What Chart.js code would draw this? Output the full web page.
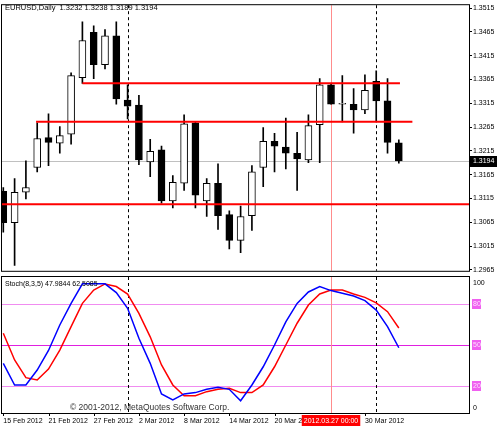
<!DOCTYPE html>
<html><head><meta charset="utf-8">
<script src="https://cdn.jsdelivr.net/npm/chart.js@4.4.1/dist/chart.umd.min.js"></script>
<style>body{margin:0;background:#fff;overflow:hidden}canvas{position:absolute;left:0}</style>
</head><body>
<canvas id="c1" width="497" height="276" style="top:0"></canvas>
<canvas id="c2" width="497" height="151" style="top:275px"></canvas>
<script>
const dates=["15 Feb","16 Feb","17 Feb","20 Feb","21 Feb","22 Feb","23 Feb","24 Feb","27 Feb","28 Feb","29 Feb","1 Mar","2 Mar","5 Mar","6 Mar","7 Mar","8 Mar","9 Mar","12 Mar","13 Mar","14 Mar","15 Mar","16 Mar","19 Mar","20 Mar","21 Mar","22 Mar","23 Mar","26 Mar","27 Mar","28 Mar","29 Mar","30 Mar","2 Apr","3 Apr","4 Apr"];
const openP =[1.3130,1.3064,1.3128,1.3180,1.3243,1.3231,1.3250,1.3369,1.3464,1.3396,1.3457,1.3322,1.3311,1.3192,1.3217,1.3110,1.3147,1.3274,1.3110,1.3147,1.3081,1.3027,1.3079,1.3180,1.3235,1.3223,1.3210,1.3196,1.3270,1.3354,1.3313,1.3313,1.3301,1.3361,1.3320,1.3232];
const highP =[1.3138,1.3157,1.3194,1.3274,1.3293,1.3266,1.3379,1.3486,1.3478,1.3470,1.3486,1.3354,1.3332,1.3239,1.3225,1.3163,1.3291,1.3276,1.3157,1.3188,1.3089,1.3099,1.3184,1.3264,1.3252,1.3284,1.3254,1.3291,1.3367,1.3356,1.3373,1.3346,1.3375,1.3383,1.3367,1.3238];
const lowP  =[1.3044,1.2974,1.3114,1.3171,1.3184,1.3210,1.3229,1.3357,1.3367,1.3387,1.3313,1.3282,1.3186,1.3161,1.3105,1.3095,1.3132,1.3095,1.3077,1.3050,1.3009,1.3001,1.3048,1.3140,1.3171,1.3177,1.3132,1.3190,1.3190,1.3313,1.3276,1.3252,1.3293,1.3276,1.3210,1.3189];
const closeP=[1.3064,1.3128,1.3138,1.3241,1.3233,1.3247,1.3373,1.3447,1.3396,1.3457,1.3324,1.3309,1.3196,1.3214,1.3110,1.3149,1.3272,1.3122,1.3147,1.3079,1.3027,1.3077,1.3171,1.3235,1.3225,1.3210,1.3198,1.3268,1.3354,1.3313,1.3315,1.3301,1.3342,1.3320,1.3233,1.3194];
const stochK=[36.5,20.6,20.6,31.6,46,64.7,80.6,95,95,95,88.5,77,55,36.5,14,9.6,14,15,17.4,18.9,17.4,9,20.6,34,50,67,80.6,89,93,90,88,86,82.6,75.7,63.5,47.98];
const stochD=[58.6,39,26,24.3,32.3,46.3,63.5,80.6,90.4,94.9,93,87.5,73.3,56,35.3,20.6,12.7,12.7,15.7,17.4,18.2,15,15,20.6,34,50,66,79.4,87.5,90.4,90.4,87.5,85,81,74.5,62.51];
const priceTicks=[1.2965,1.3015,1.3065,1.3115,1.3165,1.3215,1.3265,1.3315,1.3365,1.3415,1.3465,1.3515];
const stochLevels=[80,50,20];
const hLines=[{p:1.3357,from:7.0,to:35.1},{p:1.3276,from:2.9,to:36.2},{p:1.3103,from:-1,to:45}];
const lastPrice=1.3194;
const separators=[11,33];
const cursorBar=29;
const dateLabels=[{i:0,t:"15 Feb 2012"},{i:4,t:"21 Feb 2012"},{i:8,t:"27 Feb 2012"},{i:12,t:"2 Mar 2012"},{i:16,t:"8 Mar 2012"},{i:20,t:"14 Mar 2012"},{i:24,t:"20 Mar 2012"},{i:32,t:"30 Mar 2012"}];
const cursorLabel="2012.03.27 00:00";
const header="EURUSD,Daily  1.3232 1.3238 1.3189 1.3194";
const stochTitle="Stoch(8,3,5) 47.9844 62.5085";

const FONT='"Liberation Sans", Arial, sans-serif';
const XMIN=-0.115, XMAX=41.21;
const idx=dates.map((d,i)=>i);
const up=idx.map(i=>closeP[i]>=openP[i]);

function vlines(ctx,ch){
  const x=ch.scales.x, a=ch.chartArea;
  ctx.save();
  ctx.strokeStyle='#000';ctx.lineWidth=1;ctx.setLineDash([3,3]);
  separators.forEach(s=>{const px=Math.round(x.getPixelForValue(s))+0.5;ctx.beginPath();ctx.moveTo(px,a.top);ctx.lineTo(px,a.bottom);ctx.stroke();});
  ctx.setLineDash([]);ctx.strokeStyle='#ff8c8c';
  const cx=Math.round(x.getPixelForValue(cursorBar))+0.5;ctx.beginPath();ctx.moveTo(cx,a.top);ctx.lineTo(cx,a.bottom);ctx.stroke();
  ctx.restore();
}
const pricePlugin={id:'pp',
  beforeDatasetsDraw(ch){const ctx=ch.ctx,a=ch.chartArea,y=ch.scales.y;
    ctx.save();ctx.strokeStyle='#c0c0c0';ctx.lineWidth=1;const py=Math.round(y.getPixelForValue(lastPrice))+0.5;
    ctx.beginPath();ctx.moveTo(a.left,py);ctx.lineTo(a.right,py);ctx.stroke();ctx.restore();vlines(ctx,ch);},
  afterDraw(ch){const ctx=ch.ctx,a=ch.chartArea,y=ch.scales.y;
    ctx.save();ctx.strokeStyle='#000';ctx.lineWidth=1;ctx.strokeRect(a.left-0.5,a.top-0.5,a.right-a.left+1,a.bottom-a.top+1);
    ctx.font='7.5px '+FONT;ctx.fillStyle='#000';ctx.textBaseline='middle';ctx.fillText(header,5,8);
    ctx.font='7px '+FONT;
    const py=Math.round(y.getPixelForValue(lastPrice));
    ctx.fillStyle='#000';ctx.fillRect(a.right+1,py-5,27,11);ctx.fillStyle='#fff';ctx.fillText(lastPrice.toFixed(4),a.right+4,py+0.5);
    ctx.restore();}
};
const c1=new Chart(document.getElementById('c1'),{
  type:'bar',
  data:{datasets:[
    ...hLines.map(h=>({type:'line',data:[{x:h.from,y:h.p},{x:h.to,y:h.p}],borderColor:'#ff0000',borderWidth:2,pointRadius:0,order:0})),
    {label:'body',data:idx.map(i=>({x:i,y:[openP[i],closeP[i]]})),backgroundColor:idx.map(i=>up[i]?'#fff':'#000'),borderColor:'#000',borderWidth:1,borderSkipped:false,barThickness:7,grouped:false,order:1},
    {label:'wick',data:idx.map(i=>({x:i,y:[lowP[i],highP[i]]})),backgroundColor:'#000',borderWidth:0,barThickness:1,grouped:false,order:2}
  ]},
  options:{responsive:false,animation:false,devicePixelRatio:1,
    layout:{padding:{left:2,top:2,bottom:3,right:0}},
    plugins:{legend:{display:false},tooltip:{enabled:false}},
    scales:{
      x:{type:'linear',min:XMIN,max:XMAX,offset:false,display:false},
      y:{position:'right',min:1.29629,max:1.35212,
        afterBuildTicks(s){s.ticks=priceTicks.map(v=>({value:v}));},
        afterFit(s){s.width=28;},
        grid:{drawOnChartArea:false,tickLength:3,color:'#000'},border:{color:'#000'},
        ticks:{padding:1,color:'#000',font:{size:7,family:FONT},callback:v=>v.toFixed(4)}}
    }},
  plugins:[pricePlugin]
});
const stochPlugin={id:'sp',
  beforeDatasetsDraw(ch){const ctx=ch.ctx,a=ch.chartArea,y=ch.scales.y;
    ctx.save();stochLevels.forEach(l=>{ctx.strokeStyle=l===50?'#e020e0':'#f08cf0';ctx.lineWidth=1;const py=Math.round(y.getPixelForValue(l))+0.5;
      ctx.beginPath();ctx.moveTo(a.left,py);ctx.lineTo(a.right,py);ctx.stroke();});ctx.restore();vlines(ctx,ch);},
  afterDraw(ch){const ctx=ch.ctx,a=ch.chartArea,x=ch.scales.x,y=ch.scales.y;
    ctx.save();ctx.strokeStyle='#000';ctx.lineWidth=1;ctx.strokeRect(a.left-0.5,a.top-0.5,a.right-a.left+1,a.bottom-a.top+1);
    ctx.font='7px '+FONT;ctx.textBaseline='middle';ctx.fillStyle='#000';
    ctx.fillText(stochTitle,5,9);
    ctx.fillStyle='#333';ctx.font='8.5px '+FONT;ctx.fillText("© 2001-2012, MetaQuotes Software Corp.",70,133);
    ctx.font='7px '+FONT;ctx.fillStyle='#000';
    ctx.fillText("100",a.right+4,a.top+6);ctx.fillText("0",a.right+4,a.bottom-5);
    stochLevels.forEach(l=>{const py=Math.round(y.getPixelForValue(l));ctx.fillStyle='#f060f0';ctx.fillRect(a.right+3,py-5,9,10);ctx.fillStyle='#ffe0ff';ctx.fillText(String(l),a.right+4,py+0.5);});
    ctx.fillStyle='#000';
    dateLabels.forEach(d=>{const px=x.getPixelForValue(d.i);ctx.fillRect(Math.round(px),a.bottom,1,3);ctx.fillText(d.t,px,a.bottom+8);});
    const cx=x.getPixelForValue(cursorBar);const w=ctx.measureText(cursorLabel).width+4;
    ctx.fillStyle='#ff0000';ctx.fillRect(cx-w/2,a.bottom+2,w,11);ctx.fillStyle='#fff';ctx.textAlign='center';ctx.fillText(cursorLabel,cx,a.bottom+8);
    ctx.restore();}
};
const c2=new Chart(document.getElementById('c2'),{
  type:'line',
  data:{datasets:[
    {data:idx.map(i=>({x:i,y:stochK[i]})),borderColor:'#0000ff',borderWidth:1.5,pointRadius:0,tension:0},
    {data:idx.map(i=>({x:i,y:stochD[i]})),borderColor:'#ff0000',borderWidth:1.5,pointRadius:0,tension:0}
  ]},
  options:{responsive:false,animation:false,devicePixelRatio:1,
    layout:{padding:{left:2,top:2,bottom:13,right:0}},
    plugins:{legend:{display:false},tooltip:{enabled:false}},
    scales:{
      x:{type:'linear',min:XMIN,max:XMAX,display:false},
      y:{position:'right',min:0,max:100,afterFit(s){s.width=28;},grid:{drawOnChartArea:false,display:false},border:{color:'#000'},ticks:{display:false}}
    }},
  plugins:[stochPlugin]
});
</script></body></html>
